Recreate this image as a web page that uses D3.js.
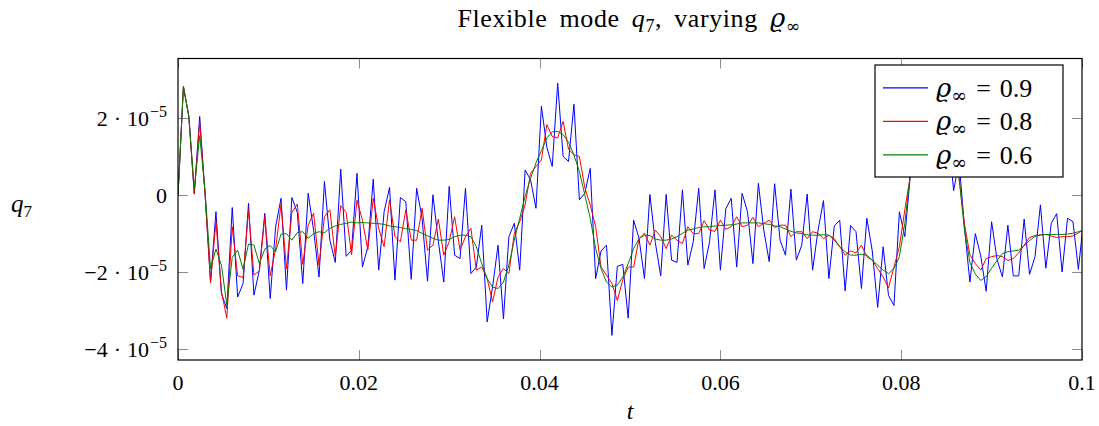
<!DOCTYPE html>
<html>
<head>
<meta charset="utf-8">
<script src="https://cdn.jsdelivr.net/npm/d3@7"></script>
<style>
  html, body { margin: 0; padding: 0; background: #fff; }
  svg { display: block; }
  text { font-family: "Liberation Serif", "DejaVu Serif", serif; fill: #000; }
  .greek { font-family: "DejaVu Serif", serif; }
</style>
</head>
<body>
<svg id="chart" width="1099" height="426"></svg>
<script>
// Time step of the simulation output
const dt = 0.0006;

// q7 response (units of 1e-5) for each value of the spectral radius rho_inf
const q7_rho09 = [
  0, 2.83, 2.05, 0.05, 2.05, 0.0, -2.25, -0.43, -2.56, -2.95,
  -0.32, -2.65, -2.3, -0.21, -2.6, -1.95, -0.47, -2.69, -0.82, -0.08,
  -2.47, -0.06, -0.45, -2.3, 0.05, -0.91, -2.13, 0.36, -1.17, -1.75,
  0.68, -1.59, -1.43, 0.57, -1.87, -1.34, 0.42, -1.95, -0.43, 0.2,
  -2.21, -0.06, -0.17, -2.19, 0.18, -0.6, -2.24, 0.01, -1.2, -2.26,
  0.23, -1.56, -1.65, 0.18, -2.04, -1.87, -0.78, -3.3, -2.39, -1.30,
  -3.22, -1.08, -0.73, -1.95, 0.66, 0.40, -0.34, 2.32, 1.25, 0.75,
  2.92, 1.01, 0.88, 2.37, -0.12, 0.05, 0.70, -2.17, -1.45, -1.30,
  -3.65, -1.85, -1.80, -3.2, -0.65, -1.12, -2.17, 0.02, -1.23, -2.1,
  0.02, -1.69, -1.75, 0.14, -1.82, -1.21, 0.18, -1.91, -1.21, 0.14,
  -1.95, -0.35, -0.08, -1.87, 0.05, -0.43, -1.78, 0.31, -0.91, -1.73,
  0.30, -1.17, -1.56, 0.16, -1.69, -1.30, 0.03, -1.95, -0.91, -0.14,
  -2.17, -0.8, -0.65, -2.49, -0.79, -0.95, -2.43, -0.60, -1.45, -2.92,
  -1.34, -2.61, -2.87, -0.43, -1.08, 0.5, 1.7, 2.9, 2.5, 2.3,
  3.1, 2.4, 1.6, 0.12, 0.9, -0.85, -2.26, -1.0, -1.58, -2.5,
  -0.69, -1.67, -2.13, -0.78, -2.1, -2.1, -0.62, -2.06, -1.6, -0.25,
  -1.9, -0.73, -0.48, -2.0, -0.6, -0.69, -1.93, -0.6
];

const q7_rho08 = [
  0, 2.83, 2.05, 0.03, 1.9, 0.0, -2.28, -0.69, -2.5, -3.2,
  -0.82, -2.1, -2.14, -0.38, -2.08, -1.97, -0.56, -2.1, -1.4, -0.23,
  -1.92, -0.45, -0.23, -1.8, -0.78, -0.47, -1.82, -0.56, -0.38, -1.6,
  -0.27, -0.45, -1.55, -0.13, -0.65, -1.43, -0.08, -0.86, -1.34, -0.12,
  -1.08, -1.21, -0.38, -1.17, -1.17, -0.34, -1.43, -1.3, -0.62, -1.56,
  -1.21, -0.56, -1.43, -1.08, -0.86, -1.95, -1.87, -2.17, -2.78, -2.13,
  -1.91, -2.04, -0.99, -0.69, -0.25, 0.57, 0.75, 0.92, 1.84, 1.53,
  1.49, 1.92, 1.2, 1.05, 1.01, 0.2, -0.25, -0.82, -1.87, -2.08,
  -2.3, -2.74, -2.2, -1.87, -1.87, -1.13, -0.99, -1.30, -0.91, -1.08,
  -1.39, -1.04, -1.17, -1.26, -0.82, -1.0, -1.0, -0.66, -0.91, -0.94,
  -0.65, -0.89, -0.82, -0.56, -0.82, -0.78, -0.58, -0.82, -0.73, -0.65,
  -0.84, -0.78, -0.78, -1.08, -0.95, -0.95, -1.13, -0.95, -0.99, -1.13,
  -1.04, -1.17, -1.34, -1.56, -1.45, -1.50, -1.30, -1.60, -1.69, -1.91,
  -2.13, -2.41, -1.87, -1.34, -0.38, 0.49, 1.5, 2.2, 2.5, 2.6,
  2.4, 2.1, 1.7, 1.2, 0.45, -0.75, -1.55, -1.78, -1.95, -1.65,
  -1.6, -1.57, -1.6, -1.7, -1.65, -1.5, -1.3, -1.1, -1.05, -1.03,
  -1.02, -1.06, -1.1, -1.08, -1.08, -1.06, -0.98, -0.9
];

const q7_rho06 = [
  0, 2.83, 2.05, 0.15, 1.55, 0.1, -1.91, -1.40, -1.82, -2.85,
  -1.62, -1.43, -1.93, -1.27, -1.30, -1.78, -1.40, -1.31, -1.47, -1.01,
  -1.0, -1.17, -0.97, -0.95, -1.12, -1.0, -0.95, -0.98, -0.86, -0.8,
  -0.76, -0.73, -0.7, -0.72, -0.71, -0.72, -0.73, -0.74, -0.76, -0.8,
  -0.82, -0.84, -0.87, -0.89, -0.92, -0.99, -1.06, -1.12, -1.17, -1.17,
  -1.15, -1.08, -1.04, -1.04, -1.08, -1.34, -1.78, -2.17, -2.39, -2.43,
  -2.26, -1.82, -1.17, -0.60, -0.03, 0.44, 0.84, 1.16, 1.49, 1.65,
  1.66, 1.58, 1.38, 1.05, 0.62, 0.01, -0.60, -1.39, -1.91, -2.26,
  -2.39, -2.34, -2.13, -1.78, -1.39, -1.13, -1.04, -1.05, -1.14, -1.17,
  -1.17, -1.14, -1.08, -0.99, -0.91, -0.88, -0.84, -0.82, -0.82, -0.80,
  -0.79, -0.78, -0.77, -0.75, -0.72, -0.72, -0.72, -0.72, -0.74, -0.76,
  -0.8, -0.82, -0.88, -0.94, -0.98, -1.0, -1.03, -1.04, -1.04, -1.03,
  -1.04, -1.13, -1.34, -1.47, -1.56, -1.56, -1.54, -1.56, -1.69, -1.82,
  -1.95, -2.04, -1.91, -1.60, -0.73, 0.53, 1.6, 2.3, 2.6, 2.6,
  2.4, 2.1, 1.7, 1.2, 0.45, -0.9, -1.75, -2.05, -2.22, -2.12,
  -1.9, -1.7, -1.52, -1.47, -1.45, -1.43, -1.32, -1.18, -1.07, -1.04,
  -1.02, -1.02, -1.02, -1.02, -1.01, -0.99, -0.95, -0.91
];

const seriesNames = ["0.9", "0.8", "0.6"];
const seriesColors = ["#0000ff", "#ff0000", "#008000"];
const xTicks = [0, 0.02, 0.04, 0.06, 0.08, 0.1];
const xTickLabels = ["0", "0.02", "0.04", "0.06", "0.08", "0.1"];
const yTicks = [2, 0, -2, -4];          // in units of 1e-5
const yTickMant = ["2", "0", "\u22122", "\u22124"];

const svg = d3.select("#chart");
const M = { left: 178, right: 1082, top: 58.5, bottom: 360 };

const x = d3.scaleLinear().domain([0, 0.1]).range([M.left, M.right]);
const y = d3.scaleLinear().domain([-4.29, 3.56]).range([M.bottom, M.top]);

svg.append("clipPath").attr("id", "plotclip")
  .append("rect")
  .attr("x", M.left).attr("y", M.top)
  .attr("width", M.right - M.left).attr("height", M.bottom - M.top);

// Tick marks, drawn inside the frame on all four sides
const tickLen = 10;
const tickColor = "#8c8c8c";
const ticks = svg.append("g");
xTicks.forEach(t => {
  const px = Math.round(x(t)) + 0.5;
  ticks.append("line").attr("x1", px).attr("x2", px)
    .attr("y1", M.bottom).attr("y2", M.bottom - tickLen)
    .attr("stroke", tickColor).attr("stroke-width", 1);
  ticks.append("line").attr("x1", px).attr("x2", px)
    .attr("y1", M.top).attr("y2", M.top + tickLen)
    .attr("stroke", tickColor).attr("stroke-width", 1);
});
yTicks.forEach(v => {
  const py = Math.round(y(v)) + 0.5;
  ticks.append("line").attr("x1", M.left).attr("x2", M.left + tickLen)
    .attr("y1", py).attr("y2", py)
    .attr("stroke", tickColor).attr("stroke-width", 1);
  ticks.append("line").attr("x1", M.right).attr("x2", M.right - tickLen)
    .attr("y1", py).attr("y2", py)
    .attr("stroke", tickColor).attr("stroke-width", 1);
});

// Series lines
const allSeries = [q7_rho09, q7_rho08, q7_rho06];
const line = d3.line()
  .x((d, i) => x(i * dt))
  .y(d => y(d));

const plot = svg.append("g").attr("clip-path", "url(#plotclip)");
allSeries.forEach((s, k) => {
  plot.append("path")
    .datum(s)
    .attr("d", line)
    .attr("fill", "none")
    .attr("stroke", seriesColors[k])
    .attr("stroke-width", 1)
    .attr("stroke-linejoin", "round");
});

// Frame
svg.append("rect")
  .attr("x", M.left).attr("y", M.top)
  .attr("width", M.right - M.left).attr("height", M.bottom - M.top)
  .attr("fill", "none").attr("stroke", "#000").attr("stroke-width", 1.2);

// X tick labels
xTicks.forEach((t, i) => {
  svg.append("text")
    .attr("x", x(t)).attr("y", 390)
    .attr("text-anchor", "middle")
    .attr("font-size", 22)
    .text(xTickLabels[i]);
});

// Y tick labels: m · 10^-5
yTicks.forEach((v, i) => {
  const tx = svg.append("text")
    .attr("x", 167)
    .attr("y", y(v) + 8)
    .attr("text-anchor", "end")
    .attr("font-size", 22);
  if (v === 0) {
    tx.text("0");
  } else {
    tx.append("tspan").text(yTickMant[i]);
    tx.append("tspan").attr("dx", 6).text("\u00b7");
    tx.append("tspan").attr("dx", 6).text("10");
    tx.append("tspan").attr("dy", -9).attr("dx", 1).attr("font-size", 16).text("\u22125");
  }
});

// Axis labels
svg.append("text")
  .attr("x", x(0.05)).attr("y", 419)
  .attr("text-anchor", "middle")
  .attr("font-size", 24).attr("font-style", "italic")
  .text("t");

const yl = svg.append("text")
  .attr("x", 11).attr("y", 212)
  .attr("font-size", 25);
yl.append("tspan").attr("font-style", "italic").text("q");
yl.append("tspan").attr("dy", 5).attr("font-size", 17).text("7");

// Title
const title = svg.append("text")
  .attr("x", 629).attr("y", 27)
  .attr("text-anchor", "middle")
  .attr("font-size", 26)
  .attr("letter-spacing", 0.6)
  .attr("word-spacing", 5);
title.append("tspan").text("Flexible mode ");
title.append("tspan").attr("font-style", "italic").text("q");
title.append("tspan").attr("dy", 5).attr("font-size", 18).text("7");
title.append("tspan").attr("dy", -5).text(", varying ");
title.append("tspan").attr("class", "greek").attr("font-style", "italic").text("\u03f1");
title.append("tspan").attr("class", "greek").attr("dy", 5).attr("font-size", 17).text("\u221e");

// Legend
const lg = svg.append("g");
lg.append("rect")
  .attr("x", 875).attr("y", 65).attr("width", 188).attr("height", 112)
  .attr("fill", "#fff").attr("stroke", "#000").attr("stroke-width", 1.2);
seriesNames.forEach((name, k) => {
  const ly = 87.8 + k * 33.5;
  lg.append("line")
    .attr("x1", 883).attr("x2", 928)
    .attr("y1", ly).attr("y2", ly)
    .attr("stroke", seriesColors[k]).attr("stroke-width", 1.3);
  const t = lg.append("text")
    .attr("x", 936).attr("y", ly + 9)
    .attr("font-size", 26);
  t.append("tspan").attr("class", "greek").attr("font-style", "italic").text("\u03f1");
  t.append("tspan").attr("class", "greek").attr("dy", 5).attr("font-size", 19).text("\u221e");
  t.append("tspan").attr("dy", -5).attr("dx", 9).text("=");
  t.append("tspan").attr("dx", 9).text(name);
});
</script>
</body>
</html>
